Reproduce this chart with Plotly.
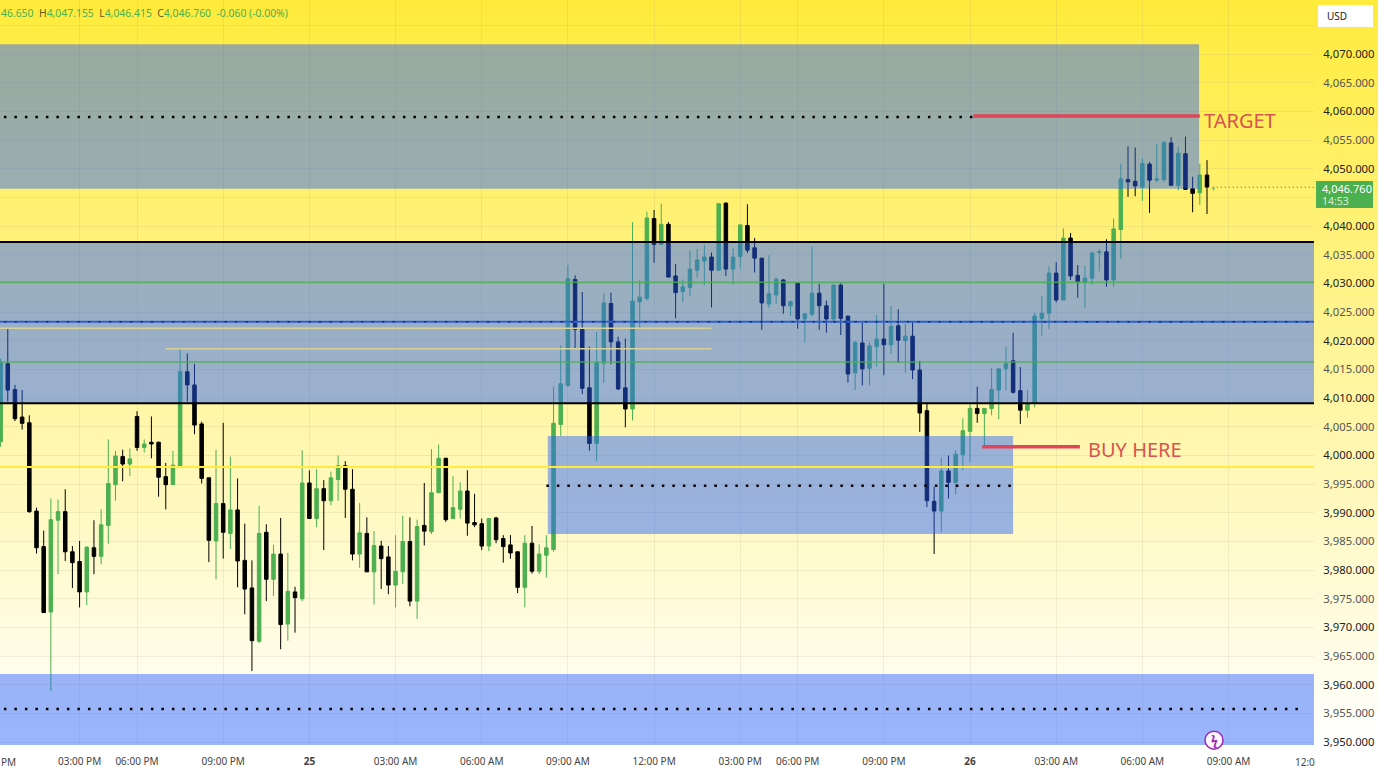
"""
Gold 15 minute chart with supply and demand zones
"""

import plotly.graph_objects as go

W, H = 1385, 779
# screenshot comes out a touch short, stretch the pixel positions to match
PLOT_BOTTOM = 749
SY = PLOT_BOTTOM / 745

opens = [
    4002.4, 4016.0, 4011.5, 4006.7, 4005.7, 3990.3, 3984.1, 3972.7, 3988.7, 3990.2,
    3983.2, 3981.5, 3976.2, 3983.9, 3982.4, 3987.8, 3994.9, 3999.8, 3998.5, 4006.8,
    4001.4, 4002.3, 4002.3, 3996.3, 3994.9, 3998.1, 4014.6, 4012.3, 4005.5, 3996.1,
    3985.1, 3991.6, 3986.4, 3990.5, 3981.7, 3976.9, 3967.6, 3986.6, 3978.4, 3982.8,
    3970.6, 3976.2, 3975.0, 3995.2, 3989.0, 3994.2, 3992.1, 3995.8, 3998.2, 3994.1,
    3982.8, 3986.4, 3979.7, 3984.2, 3982.3, 3977.4, 3979.7, 3985.0, 3974.6, 3987.8,
    3986.7, 3993.5, 3999.5, 3989.0, 3990.6, 3993.8, 3988.3, 3988.1, 3984.2, 3989.1,
    3985.5, 3984.4, 3983.2, 3977.0, 3984.7, 3979.8, 3982.6, 3983.6, 4005.4, 4012.2,
    4030.7, 4022.0, 4011.8, 4002.1, 4016.1, 4026.5, 4019.8, 4011.8, 4008.1, 4026.8,
    4027.4, 4041.3, 4036.8, 4040.3, 4031.3, 4028.6, 4029.3, 4032.3, 4033.9, 4034.6,
    4032.3, 4044.0, 4032.5, 4034.7, 4040.1, 4036.2, 4034.4, 4026.4, 4028.0, 4030.6,
    4026.1, 4030.0, 4023.8, 4024.6, 4028.3, 4026.1, 4023.8, 4029.7, 4024.3, 4014.4,
    4019.6, 4015.2, 4019.0, 4020.3, 4019.3, 4022.6, 4020.0, 4020.8, 4014.9, 4007.8,
    3992.0, 3990.3, 3997.3, 3995.3, 4000.1, 4004.2, 4008.2, 4007.3, 4008.2, 4011.4,
    4015.1, 4016.5, 4011.3, 4007.9, 4009.2, 4023.9, 4024.8, 4031.8, 4027.1, 4037.9,
    4031.4, 4030.2, 4030.9, 4035.4, 4035.5, 4030.6, 4039.4, 4048.1, 4047.8, 4046.8,
    4050.8, 4048.0, 4048.1, 4054.5, 4047.1, 4052.6, 4046.5, 4045.8, 4048.9,
]
highs = [
    4016.9, 4022.1, 4012.3, 4011.4, 4007.0, 3990.9, 3986.9, 3992.5, 3992.3, 3994.1,
    3984.2, 3985.1, 3984.2, 3988.7, 3990.6, 4002.8, 4000.8, 4001.0, 4001.2, 4007.7,
    4002.8, 4006.8, 4002.4, 3998.7, 4000.8, 4018.5, 4017.8, 4016.0, 4005.9, 3996.1,
    4001.0, 4005.7, 3999.8, 3996.0, 3988.1, 3981.7, 3991.2, 3988.0, 3984.4, 3989.1,
    3983.0, 3977.1, 4000.9, 3997.4, 3997.6, 3995.7, 3997.2, 4000.0, 3999.0, 3997.6,
    3991.7, 3989.2, 3986.8, 3985.1, 3984.2, 3986.1, 3989.5, 3989.2, 3988.8, 3995.2,
    4001.1, 4001.9, 3999.6, 3996.4, 3995.3, 3997.4, 3993.3, 3989.0, 3989.1, 3989.3,
    3986.1, 3986.1, 3983.2, 3986.1, 3987.7, 3984.5, 3986.1, 4012.0, 4019.2, 4033.2,
    4031.4, 4028.5, 4019.0, 4021.5, 4028.2, 4028.4, 4020.7, 4020.4, 4040.7, 4030.6,
    4042.5, 4042.8, 4043.9, 4040.7, 4033.4, 4030.7, 4035.7, 4036.0, 4036.7, 4035.4,
    4044.0, 4044.1, 4036.1, 4040.3, 4043.8, 4037.9, 4034.4, 4034.9, 4031.1, 4030.8,
    4027.0, 4030.0, 4024.8, 4036.4, 4029.9, 4027.0, 4029.8, 4030.0, 4024.3, 4020.0,
    4023.2, 4019.8, 4024.5, 4029.9, 4026.1, 4025.5, 4023.0, 4023.3, 4016.5, 4009.3,
    3994.5, 3999.6, 4000.0, 4000.9, 4006.5, 4009.3, 4012.0, 4008.2, 4015.2, 4015.1,
    4018.9, 4021.4, 4015.4, 4011.4, 4024.9, 4027.8, 4033.0, 4033.7, 4039.6, 4038.8,
    4033.2, 4033.1, 4035.5, 4036.0, 4037.7, 4041.3, 4050.9, 4053.9, 4053.7, 4051.8,
    4051.2, 4054.3, 4054.8, 4055.5, 4053.8, 4055.6, 4048.6, 4050.9, 4051.5,
]
lows = [
    4001.5, 4009.4, 4006.0, 4004.5, 3990.0, 3982.9, 3972.6, 3958.9, 3979.3, 3981.6,
    3976.9, 3973.5, 3973.9, 3979.3, 3981.0, 3984.6, 3992.1, 3995.5, 3996.4, 4000.8,
    4000.5, 3999.5, 3992.8, 3990.6, 3994.9, 3998.0, 4009.4, 4003.7, 3995.1, 3981.4,
    3978.4, 3982.0, 3983.7, 3977.0, 3972.3, 3962.4, 3967.3, 3974.6, 3975.5, 3966.2,
    3967.7, 3969.1, 3974.6, 3989.0, 3987.5, 3983.5, 3991.3, 3992.1, 3989.1, 3981.7,
    3980.4, 3979.7, 3974.0, 3976.7, 3975.8, 3973.5, 3977.6, 3973.7, 3971.5, 3984.3,
    3986.3, 3993.5, 3988.4, 3989.0, 3989.0, 3986.0, 3987.5, 3983.5, 3983.3, 3984.7,
    3981.3, 3982.0, 3976.0, 3973.5, 3979.4, 3979.3, 3978.7, 3983.2, 4003.4, 4012.0,
    4018.6, 4010.7, 4000.8, 3999.0, 4012.7, 4015.9, 4011.4, 4004.9, 4006.1, 4022.0,
    4027.0, 4033.6, 4036.8, 4031.1, 4023.9, 4026.8, 4027.8, 4031.0, 4029.7, 4025.8,
    4032.3, 4031.3, 4029.8, 4032.6, 4035.3, 4031.9, 4021.9, 4025.7, 4026.5, 4024.7,
    4024.3, 4022.1, 4019.7, 4024.2, 4021.9, 4021.4, 4023.2, 4021.0, 4012.7, 4011.4,
    4012.2, 4012.2, 4015.5, 4014.0, 4017.7, 4016.1, 4014.4, 4013.3, 4004.1, 3991.0,
    3982.8, 3986.6, 3992.5, 3993.2, 3997.4, 3998.8, 4005.7, 4001.5, 4007.0, 4006.3,
    4011.4, 4010.8, 4005.5, 4006.6, 4008.4, 4020.9, 4022.0, 4026.7, 4027.1, 4030.6,
    4027.5, 4025.7, 4029.8, 4032.1, 4029.4, 4029.4, 4034.3, 4045.1, 4045.2, 4044.4,
    4042.3, 4047.7, 4047.7, 4047.1, 4046.2, 4046.3, 4042.4, 4043.7, 4042.1,
]
closes = [
    4016.3, 4011.4, 4006.4, 4005.6, 3990.2, 3983.9, 3972.6, 3988.8, 3990.2, 3983.2,
    3981.3, 3976.2, 3984.0, 3982.4, 3987.9, 3995.1, 3999.9, 3998.5, 3999.4, 4001.4,
    4002.0, 4002.0, 3996.2, 3994.9, 3998.3, 4014.6, 4012.3, 4005.3, 3996.0, 3985.2,
    3991.6, 3986.6, 3990.5, 3981.6, 3976.7, 3967.7, 3986.4, 3978.4, 3982.8, 3970.5,
    3976.3, 3975.2, 3995.2, 3989.0, 3994.2, 3992.1, 3996.1, 3998.2, 3994.1, 3982.8,
    3986.5, 3979.7, 3984.3, 3982.0, 3977.4, 3979.8, 3985.0, 3974.6, 3987.6, 3986.8,
    3993.5, 3999.5, 3988.8, 3990.9, 3993.8, 3988.2, 3987.9, 3984.2, 3989.0, 3985.3,
    3984.1, 3983.0, 3977.0, 3984.7, 3979.8, 3982.8, 3983.9, 4005.6, 4012.5, 4030.8,
    4022.0, 4011.7, 4002.1, 4016.2, 4026.6, 4019.8, 4011.6, 4008.1, 4026.9, 4027.6,
    4041.4, 4036.8, 4040.3, 4031.1, 4028.4, 4029.4, 4032.5, 4034.1, 4034.6, 4032.3,
    4043.9, 4032.5, 4034.6, 4040.2, 4035.8, 4034.4, 4026.6, 4028.2, 4030.7, 4026.1,
    4026.8, 4023.8, 4024.7, 4028.3, 4026.1, 4023.8, 4029.7, 4023.9, 4014.2, 4019.7,
    4015.1, 4019.1, 4020.3, 4019.3, 4022.5, 4020.1, 4020.8, 4014.9, 4007.4, 3992.1,
    3990.3, 3997.3, 3995.3, 4000.2, 4004.3, 4008.2, 4007.3, 4008.2, 4011.5, 4015.1,
    4016.0, 4011.0, 4007.9, 4009.1, 4024.3, 4024.8, 4031.8, 4027.1, 4037.9, 4031.3,
    4030.3, 4030.9, 4035.3, 4035.5, 4030.6, 4039.5, 4048.2, 4047.7, 4047.0, 4050.9,
    4048.0, 4048.2, 4054.6, 4047.1, 4052.7, 4046.4, 4045.7, 4048.9, 4046.8,
]
bars = list(range(len(opens)))

time_ticks = [11, 19, 31, 43, 55, 67, 79, 91, 103, 111, 123, 135, 147, 159, 171]
time_labels = ['03:00 PM', '06:00 PM', '09:00 PM', '<b>25</b>', '03:00 AM', '06:00 AM', '09:00 AM',
               '12:00 PM', '03:00 PM', '06:00 PM', '09:00 PM', '<b>26</b>', '03:00 AM', '06:00 AM',
               '09:00 AM']
price_ticks = list(range(3950, 4080, 5))
# 4,045 and 4,075 sit behind the last price tag and the USD box
hidden_ticks = [4045, 4075]
price_labels = []
for p in price_ticks:
    if p in hidden_ticks:
        price_labels.append('')
    elif p % 10 == 0:
        price_labels.append(f'{p:,}.000')
    else:
        price_labels.append(f'<span style="color:#555555">{p:,}.000</span>')

# zones are (first bar, last bar, top, bottom)
zones = [
    (-1, 166.9, 4071.7, 4046.5),
    (-1, 183, 4037.2, 4009.1),
    (76.2, 141, 4003.4, 3986.3),
    (-1, 183, 3961.9, 3949.5),
]
black_levels = [4037.2, 4009.1]
green_levels = [4030.2, 4016.3]
blue_level = 4023.3
yellow_level = 3998.0
pale_lines = [(-1, 99, 4022.2), (23, 99, 4018.6)]
dotted_lines = [(-1, 135.5, 4059.0), (76, 141, 3994.7), (-1, 181.5, 3955.8)]
target_line = (135.5, 167, 4059.2)
buy_line = (136.7, 150.3, 4001.5)
last_price = 4046.76

ZONE_COLOR = 'rgba(41,98,255,0.47)'
RED = '#e0455a'

fig = go.Figure()

# gradient behind the whole chart, price axis column included
fig.add_trace(go.Heatmap(
    x=[0, 1], y=[0, 1], z=[[0, 0], [1, 1]],
    colorscale=[[0, '#ffffff'], [1, '#ffeb3b']],
    zsmooth='best', showscale=False, hoverinfo='skip',
    xaxis='x', yaxis='y'
))

fig.add_trace(go.Candlestick(
    x=bars, open=opens, high=highs, low=lows, close=closes,
    increasing=dict(line=dict(color='#4caf50', width=1), fillcolor='#4caf50'),
    decreasing=dict(line=dict(color='#000000', width=1), fillcolor='#000000'),
    whiskerwidth=0,
    xaxis='x2', yaxis='y2',
    showlegend=False
))

shapes = []


def hline(x0, x1, y, color, width, dash='solid'):
    shapes.append(dict(type='line', xref='x2', yref='y2', x0=x0, x1=x1, y0=y, y1=y,
                       line=dict(color=color, width=width, dash=dash)))


def py(y):
    return 1 - y * SY / H


for x0, x1, top, bottom in zones:
    shapes.append(dict(type='rect', xref='x2', yref='y2', x0=x0, x1=x1, y0=bottom, y1=top,
                       fillcolor=ZONE_COLOR, line=dict(width=0)))
for level in green_levels:
    hline(-1, 183, level, 'rgba(76,175,80,0.85)', 1.5)
hline(-1, 183, blue_level, '#2f5fd0', 2)
hline(-1, 183, blue_level, '#1a2f6b', 1.5, '2.5px,8px')
hline(-1, 183, yellow_level, '#ffeb3b', 2)
for x0, x1, y in pale_lines:
    hline(x0, x1, y, '#d6d29a', 1.5)
for level in black_levels:
    hline(-1, 183, level, '#000000', 2)
for x0, x1, y in dotted_lines:
    hline(x0, x1, y, '#000000', 2.5, '2.5px,8px')
hline(target_line[0], target_line[1], target_line[2], RED, 3.5)
hline(buy_line[0], buy_line[1], buy_line[2], RED, 3.5)
hline(168.8, 183, last_price, '#2e7d32', 1, '1px,3px')

# price axis widgets
shapes.append(dict(type='rect', xref='paper', yref='paper', x0=1316 / W, x1=1373 / W,
                   y0=py(208), y1=py(181), fillcolor='#4caf50', line=dict(width=0)))
shapes.append(dict(type='rect', xref='paper', yref='paper', x0=1318 / W, x1=1373 / W,
                   y0=py(27), y1=py(5), fillcolor='#ffffff', line=dict(width=0)))
shapes.append(dict(type='circle', xref='paper', yref='paper', x0=1205 / W, x1=1223 / W,
                   y0=py(749), y1=py(731), fillcolor='#fdf7fd',
                   line=dict(color='#9c27b0', width=1.5)))

GREEN_TXT = '#4caf50'
DARK_TXT = '#5d5a1c'
ohlc = (f'<span style="color:{GREEN_TXT}">46.650</span>  <span style="color:{DARK_TXT}">H</span>'
        f'<span style="color:{GREEN_TXT}">4,047.155</span>  <span style="color:{DARK_TXT}">L</span>'
        f'<span style="color:{GREEN_TXT}">4,046.415</span>  <span style="color:{DARK_TXT}">C</span>'
        f'<span style="color:{GREEN_TXT}">4,046.760  -0.060 (-0.00%)</span>')


def px_note(text, x, y, size, color, anchor='left'):
    return dict(text=text, xref='paper', yref='paper', x=x / W, y=py(y), showarrow=False,
                xanchor=anchor, yanchor='middle', font=dict(size=size, color=color), borderpad=0)


annotations = [
    px_note(ohlc, 0, 13, 10.4, GREEN_TXT),
    px_note('TARGET', 1203, 120, 20, '#d9534f'),
    px_note('BUY HERE', 1087, 449, 20, '#d9534f'),
    px_note('USD', 1326, 16, 10, '#222222'),
    px_note('4,046.760', 1321, 188, 11, '#ffffff'),
    px_note('14:53', 1321, 200.5, 10.5, '#d8efd9'),
    px_note('+', 1213, 188, 8, '#4caf50', 'center'),
    px_note('<b>ϟ</b>', 1214, 740, 12, '#9c27b0', 'center'),
    px_note('PM', 0, 762, 10, '#444444'),
    px_note('12:0', 1294, 762, 10, '#444444'),
]

GRID = 'rgba(150,150,110,0.14)'

fig.update_layout(
    width=W, height=H,
    margin=dict(l=0, r=0, t=0, b=0),
    paper_bgcolor='#ffffff',
    plot_bgcolor='rgba(0,0,0,0)',
    font=dict(family='Noto Sans', size=11, color='#222222'),
    showlegend=False,
    shapes=shapes,
    annotations=annotations,
    xaxis=dict(domain=[0, 1378 / W], range=[0, 1], visible=False, fixedrange=True),
    yaxis=dict(domain=[1 - PLOT_BOTTOM / H, 1], range=[0, 1], visible=False, fixedrange=True),
    xaxis2=dict(
        domain=[0, 1314 / W], anchor='y2', range=[-0.084, 182.9],
        tickvals=time_ticks, ticktext=time_labels, tickangle=0,
        showgrid=True, gridcolor=GRID, gridwidth=1, zeroline=False, showline=False,
        ticks='outside', ticklen=7, tickcolor='rgba(0,0,0,0)',
        tickfont=dict(size=10, color='#444444'),
        rangeslider=dict(visible=False)
    ),
    yaxis2=dict(
        domain=[1 - PLOT_BOTTOM / H, 1], anchor='x2', side='right', range=[3949.48, 4079.42],
        tickvals=price_ticks, ticktext=price_labels,
        showgrid=True, gridcolor=GRID, gridwidth=1, zeroline=False, showline=False,
        ticks='outside', ticklen=6, tickcolor='rgba(0,0,0,0)',
        tickfont=dict(size=11.3, color='#222222')
    ),
)

fig.write_html("out.html", config={'displayModeBar': False},
               post_script="document.body.style.margin='0'")
